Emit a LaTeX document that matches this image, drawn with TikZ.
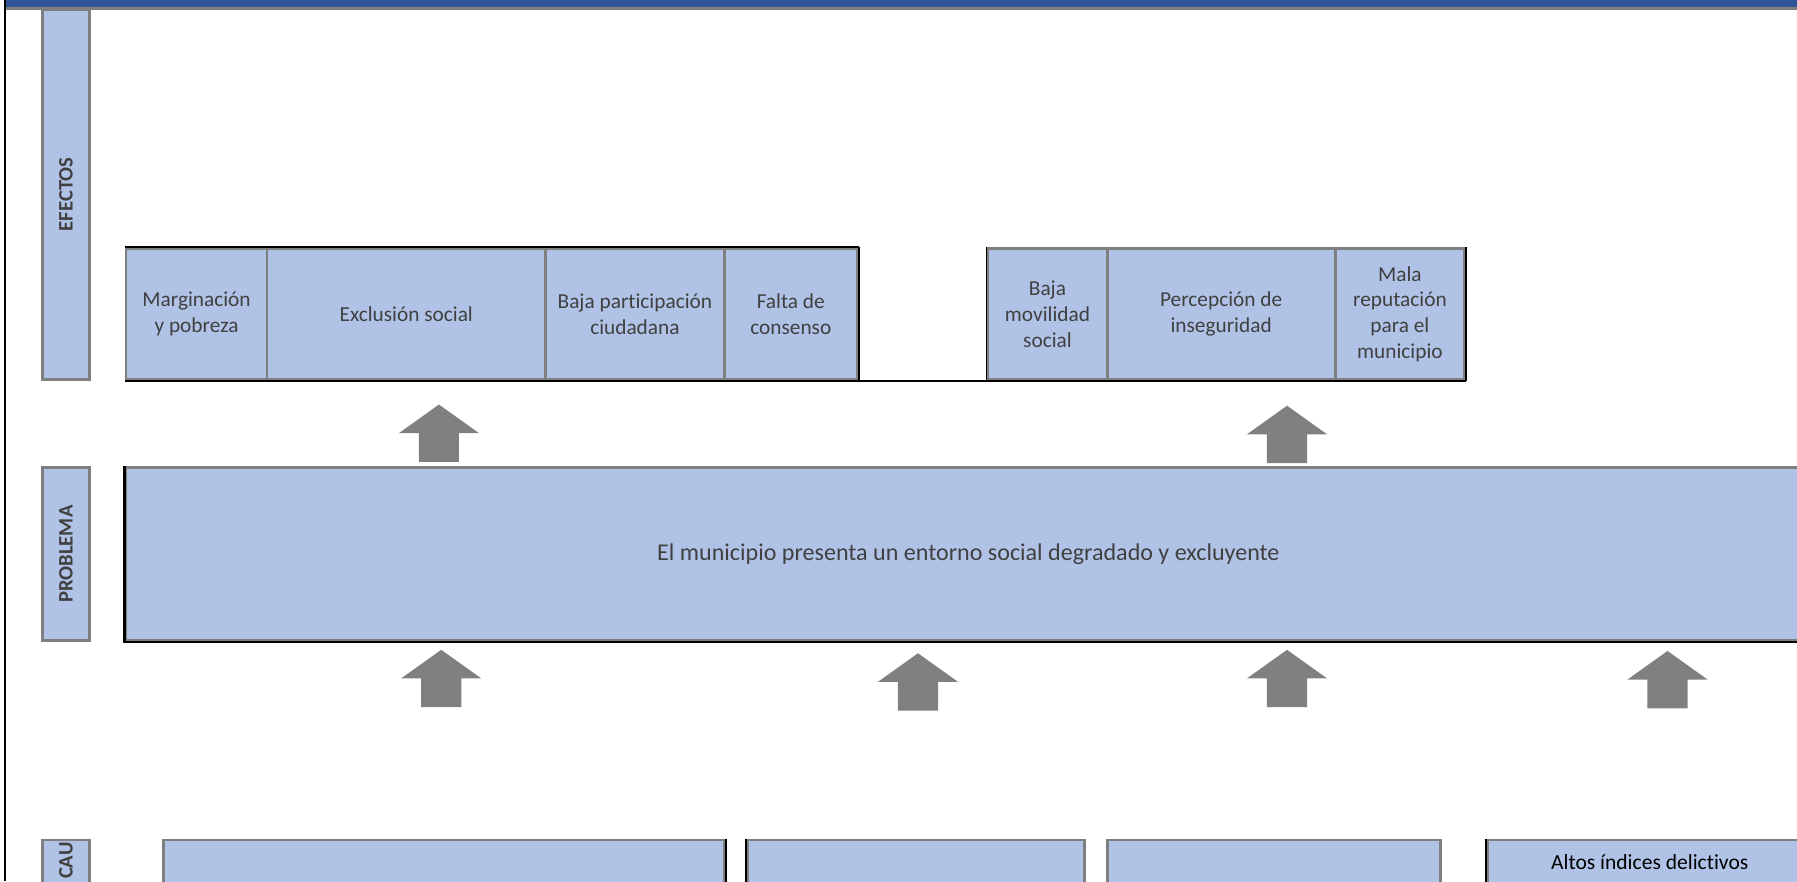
\documentclass[tikz,border=0pt]{standalone}
\usepackage{fontspec}
\setmainfont{Carlito}[Ligatures=NoCommon]
\definecolor{fillblue}{RGB}{176,195,230}
\definecolor{edgegray}{RGB}{127,127,127}
\definecolor{arrowgray}{RGB}{128,128,128}
\definecolor{barblue}{RGB}{47,85,151}
\definecolor{txtgray}{RGB}{64,64,64}
\tikzset{
  box/.style={draw=edgegray, line width=2.5pt, fill=fillblue, inner sep=0pt,
    text=txtgray, align=center, font=\fontsize{18.6}{22.5}\selectfont},
  labelbox/.style={draw=edgegray, line width=2.5pt, fill=fillblue, inner sep=0pt,
    text=txtgray, font=\bfseries\fontsize{18}{20}\selectfont},
  labeltext/.style={text=txtgray, font=\bfseries\fontsize{18}{20}\selectfont, inner sep=0pt},
  blackedge/.style={draw=black, line width=2pt},
  pics/uparrow/.style={code={
    \fill[arrowgray] (0,0) -- (35,25) -- (17.5,25) -- (17.5,50) -- (-17.5,50)
      -- (-17.5,25) -- (-35,25) -- cycle;}}
}
\begin{document}
\begin{tikzpicture}[x=1pt,y=-1pt]
\clip (0,0) rectangle (1568,769);
\fill[white] (0,0) rectangle (1568,769);
% frame
\fill[barblue] (5,0) rectangle (1568,6);
\fill[edgegray] (5,6) rectangle (1568,8.5);
\fill[black] (3.5,0) rectangle (5.5,769);
% row labels
\node[labelbox, rotate=90, minimum width=323pt, minimum height=41pt] (lef) at (57.5,169.5) {EFECTOS};
\node[labelbox, rotate=90, minimum width=151pt, minimum height=41pt] (lprob) at (57.5,483.5) {PROBLEMA};
\node[labelbox, rotate=90, minimum width=100pt, minimum height=41pt] (lcau) at (57.5,783) {};
\node[labeltext, rotate=90] (lcaut) at (57.5,751) {CAU};
% effects
\node[box, minimum width=123pt, minimum height=114pt] (m1) at (171.5,274) {Marginación\\y pobreza};
\node[box, minimum width=243pt, minimum height=114pt] (m2) at (354.5,274) {Exclusión social};
\node[box, minimum width=156pt, minimum height=114pt] (m3) at (554,274) {Baja participación\\ciudadana};
\node[box, minimum width=116pt, minimum height=114pt] (m4) at (690,274) {Falta de\\consenso};
\node[box, minimum width=104pt, minimum height=114pt] (m5) at (914,274) {Baja\\movilidad\\social};
\node[box, minimum width=199pt, minimum height=114pt] (m6) at (1065.5,274) {Percepción de\\inseguridad};
\node[box, minimum width=113pt, minimum height=114pt] (m7) at (1221.5,274) {Mala\\reputación\\para el\\municipio};
\draw[blackedge] (m1.south west) -- (m7.south east);
\draw[draw=black, line width=1.5pt] (m1.north west) -- (m4.north east);
\draw[draw=black, line width=1.5pt] (m4.north east) -- (m4.south east);
\draw[draw=black, line width=1.5pt] (m5.north west) -- (m5.south west);
\draw[blackedge] (m7.north east) -- (m7.south east);
% problem
\node[box, minimum width=1470pt, minimum height=151pt, font=\fontsize{21}{25}\selectfont] (prob) at (845,483.5)
  {El municipio presenta un entorno social degradado y excluyente};
\draw[blackedge] (prob.north west) -- (prob.south west) -- (prob.south east);
% causes
\node[box, minimum width=489pt, minimum height=90pt] (c1) at (387.5,778) {};
\node[box, minimum width=294pt, minimum height=90pt] (c2) at (799,778) {};
\node[box, minimum width=291pt, minimum height=90pt] (c3) at (1111.5,778) {};
\node[box, minimum width=283pt, minimum height=90pt] (c4) at (1439.5,778) {};
\node[text=black, font=\fontsize{18.8}{22}\selectfont, inner sep=0pt] (c4t) at (1439.5,752.5) {Altos índices delictivos};
\draw[draw=black, line width=1.5pt] (c1.north east) -- (c1.south east);
\draw[draw=black, line width=1.5pt] (c2.north west) -- (c2.south west);
\draw[draw=black, line width=1.5pt] (c4.north west) -- (c4.south west);
% block arrows
\pic (ua1) at (383,353) {uparrow};
\pic (ua2) at (1123,354) {uparrow};
\pic (la1) at (385,567) {uparrow};
\pic (la2) at (801,570) {uparrow};
\pic (la3) at (1123,567) {uparrow};
\pic (la4) at (1455,568) {uparrow};
\end{tikzpicture}
\end{document}
